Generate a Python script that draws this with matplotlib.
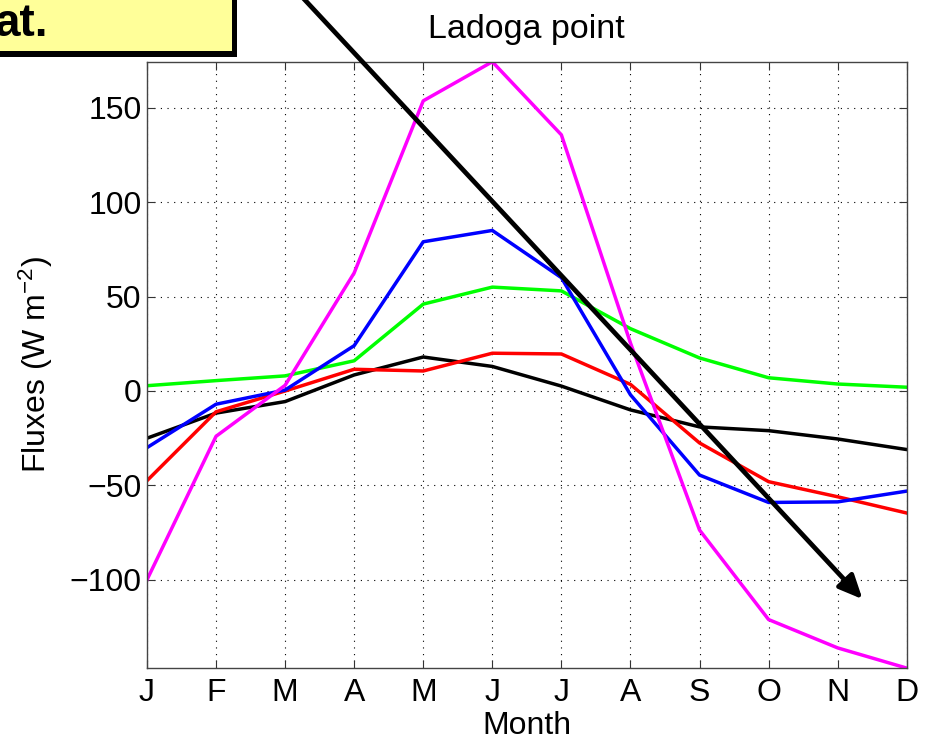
import matplotlib
matplotlib.use('Agg')
import matplotlib.pyplot as plt
from matplotlib.patches import Rectangle, FancyArrowPatch
import numpy as np

plt.rcParams['font.family'] = ['Liberation Sans', 'DejaVu Sans']
plt.rcParams['mathtext.fontset'] = 'custom'
plt.rcParams['mathtext.rm'] = 'Liberation Sans'
plt.rcParams['mathtext.it'] = 'Liberation Sans:italic'

months = ['J', 'F', 'M', 'A', 'M', 'J', 'J', 'A', 'S', 'O', 'N', 'D']
yticks = [-100, -50, 0, 50, 100, 150]

# monthly fluxes, W m-2
flux_black = [-25, -11.7, -5.6, 8.5, 18, 13, 2.6, -10, -19, -21, -25.4, -31]
flux_red = [-47.5, -11, 0, 11.5, 10.6, 20, 19.6, 3.5, -27.5, -48, -56, -64.6]
flux_green = [2.8, 5.5, 8, 16, 46, 55, 53, 33, 17.5, 7, 3.7, 2]
flux_blue = [-30, -7, 0.5, 24, 79, 85, 60, -2, -44.5, -59, -58.7, -53]
flux_magenta = [-100, -24, 3, 62.5, 153.6, 174.3, 135.6, 25.4, -73.6, -121, -136, -146.7]

# trend arrow end points (month index, flux)
arrow_start = (2.16, 212)
arrow_end = (10.36, -110.2)

fig = plt.figure(figsize=(9.3, 7.44), dpi=100)
ax = fig.add_axes([0.158, 0.102, 0.817, 0.815])

x = np.arange(len(months))
lw = 2.5
ax.plot(x, flux_black, color='black', lw=lw)
ax.plot(x, flux_red, color='#ff0000', lw=lw)
ax.plot(x, flux_green, color='#00ff00', lw=lw)
ax.plot(x, flux_blue, color='#0000ff', lw=lw)
ax.plot(x, flux_magenta, color='#ff00ff', lw=lw)

allv = np.concatenate([flux_black, flux_red, flux_green, flux_blue, flux_magenta])
ax.set_xlim(0, len(months) - 1)
ax.set_ylim(allv.min(), allv.max())
ax.set_xticks(x)
ax.set_xticklabels(months)
ax.set_yticks(yticks)
ax.grid(True, color='black', linestyle=(0, (1, 5)), linewidth=0.8)
ax.tick_params(direction='in', length=6, width=0.8, top=True, right=True,
               labelsize=23, color='#333333')
ax.tick_params(axis='x', pad=7)
ax.tick_params(axis='y', pad=4)
for sp in ax.spines.values():
    sp.set_color('#444444')
    sp.set_linewidth(1.0)

ax.set_title('Ladoga point', fontsize=24.5, pad=17)
ax.set_xlabel('Month', fontsize=23, labelpad=2)
ax.set_ylabel(r'Fluxes (W m$^{-2}$)', fontsize=23, labelpad=10)

arrow = FancyArrowPatch(arrow_start, arrow_end, arrowstyle='-|>,head_length=1.1,head_width=0.5',
                        mutation_scale=13, color='black', lw=3.4, clip_on=False,
                        shrinkA=0, shrinkB=0, zorder=5)
ax.add_patch(arrow)

# yellow label box, cut off at the top-left corner
W, H = 930.0, 744.0
fig.patches.append(Rectangle((-10 / W, 1 - 57 / H), 247 / W, 67 / H, transform=fig.transFigure,
                             facecolor='black', edgecolor='none', zorder=10))
fig.patches.append(Rectangle((-10 / W, 1 - 51 / H), 242 / W, 61 / H, transform=fig.transFigure,
                             facecolor='#ffff99', edgecolor='none', zorder=11))
fig.text(48 / W, 1 - 36 / H, 'at.', ha='right', va='baseline', fontsize=33,
         fontweight='bold', zorder=12)

fig.savefig('out.png', dpi=100)
